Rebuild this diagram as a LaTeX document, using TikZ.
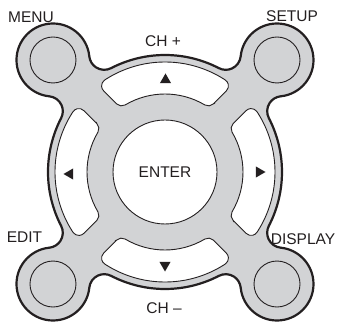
\documentclass[tikz,border=0pt]{standalone}
\usepackage{fontspec}
\setmainfont{Liberation Sans}
\usetikzlibrary{shapes.geometric}
\definecolor{padgray}{RGB}{210,211,213}
\definecolor{ink}{RGB}{35,31,32}
\begin{document}
\begin{tikzpicture}[
  lbl/.style={text=ink, font=\fontsize{15.5}{17}\selectfont, inner sep=0pt},
  btn/.style={fill=white, draw=ink, line width=0.9pt},
  tri/.style={regular polygon, regular polygon sides=3, fill=ink, inner sep=0pt, minimum size=13pt},
  lobe/.style={circle, draw=ink, line width=0.9pt, fill=padgray, minimum size=46pt, inner sep=0pt},
]
\useasboundingbox (-165pt,-149pt) rectangle (172pt,172pt);
% body geometry
\def\R{117}\def\rl{36.5}\def\f{15}\def\D{158.4}
\pgfmathsetmacro\al{acos((((\R+\f)/10)^2+(\D/10)^2-((\rl+\f)/10)^2)/(2*(\D/10)*((\R+\f)/10)))}
\pgfmathsetmacro\be{acos((((\rl+\f)/10)^2+(\D/10)^2-((\R+\f)/10)^2)/(2*(\D/10)*((\rl+\f)/10)))}
\path[draw=ink, line width=2.2pt, fill=padgray] (45-\al:\R pt)
  \foreach \t in {45,135,225,315}{
    arc[start angle=\t-\al+180, end angle=\t+\be, radius=\f pt]
    arc[start angle=\t+180+\be, end angle=\t+540-\be, radius=\rl pt]
    arc[start angle=\t-\be+360, end angle=\t+\al+180, radius=\f pt]
    arc[start angle=\t+\al, end angle=\t+90-\al, radius=\R pt]
  } -- cycle;
% corner buttons
\foreach \t/\n in {45/setup,135/menu,225/edit,315/display}
  \node[lobe] (\n) at (\t:\D pt) {};
% arrow buttons
\def\ro{110}\def\ri{78}\def\h{14}\def\c{7}
\pgfmathsetmacro\so{sqrt((\ro-\c)^2-(\h+\c)^2)}
\pgfmathsetmacro\si{sqrt((\ri+\c)^2-(\h+\c)^2)}
\pgfmathsetmacro\phio{45+asin((\h+\c)/(\ro-\c))}
\pgfmathsetmacro\phii{45+asin((\h+\c)/(\ri+\c))}
\pgfmathsetmacro\ao{45+atan(\h/\so)}
\pgfmathsetmacro\roo{sqrt(\so^2+\h^2)}
\pgfmathsetmacro\ai{45+atan(\h/\si)}
\pgfmathsetmacro\rii{sqrt(\si^2+\h^2)}
\foreach \r in {0,90,180,270}{
  \draw[btn] (\r+\ai:\rii pt) -- (\r+\ao:\roo pt)
    arc[start angle=\r-45, end angle=\r+\phio, radius=\c pt]
    arc[start angle=\r+\phio, end angle=\r+180-\phio, radius=\ro pt]
    arc[start angle=\r+180-\phio, end angle=\r+225, radius=\c pt]
    -- (\r+180-\ai:\rii pt)
    arc[start angle=\r+225, end angle=\r+360-\phii, radius=\c pt]
    arc[start angle=\r+180-\phii, end angle=\r+\phii, radius=\ri pt]
    arc[start angle=\r+\phii+180, end angle=\r+315, radius=\c pt]
    -- cycle;
}
% enter
\node[circle, btn, minimum size=104pt, inner sep=0pt, lbl, text=ink] (enter) at (0,0) {ENTER};
% triangles
\node[tri] (up) at (0.5pt,92pt) {};
\node[tri, shape border rotate=90] (left) at (-95pt,-2pt) {};
\node[tri, shape border rotate=180] (down) at (0pt,-93pt) {};
\node[tri, shape border rotate=-90] (right) at (94pt,0pt) {};
% labels
\node[lbl] (menuL) at (-134pt,155pt) {MENU};
\node[lbl] (setupL) at (127pt,156pt) {SETUP};
\node[lbl] (chp) at (-2pt,131pt) {CH +};
\node[lbl] (editL) at (-140.5pt,-65pt) {EDIT};
\node[lbl] (dispL) at (138pt,-67pt) {DISPLAY};
\node[lbl] (chm) at (-1pt,-136pt) {CH –};
\end{tikzpicture}
\end{document}
